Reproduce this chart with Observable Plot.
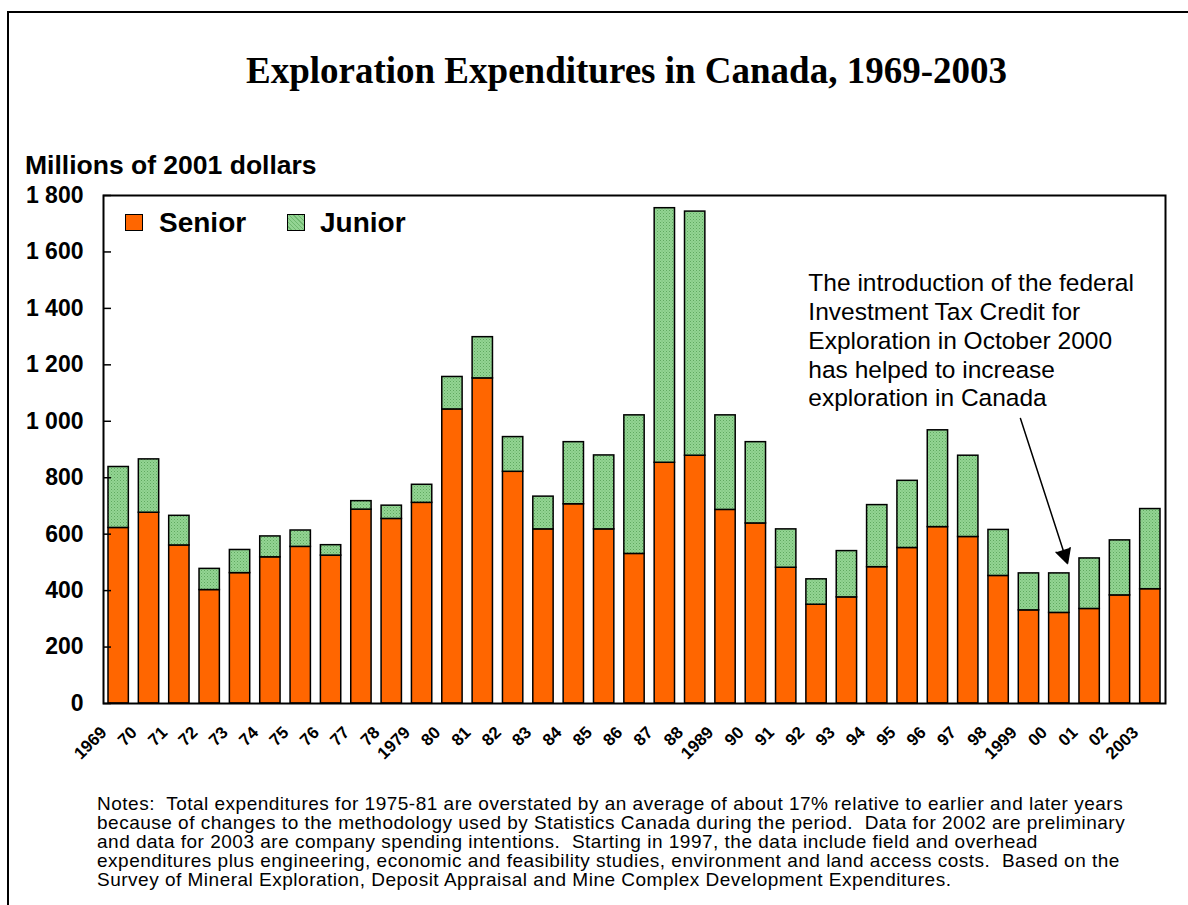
<!DOCTYPE html>
<html>
<head>
<meta charset="utf-8">
<script src="https://cdn.jsdelivr.net/npm/d3@7"></script>
<script src="https://cdn.jsdelivr.net/npm/@observablehq/plot@0.6"></script>
<style>
  html, body { margin: 0; padding: 0; background: #fff; }
  #page { position: relative; width: 1188px; height: 905px; overflow: hidden; font-family: "Liberation Sans", Arial, sans-serif; color: #000; }
  #frame { position: absolute; left: 7px; top: 11px; width: 1300px; height: 1000px; border-left: 2px solid #000; border-top: 2px solid #000; }
  #chart { position: absolute; left: 0; top: 0; }
  .abs { position: absolute; white-space: pre; line-height: 1; }
  #title { left: 0; width: 1253px; text-align: center; top: 52px; font-family: "Liberation Serif", "Times New Roman", serif; font-weight: bold; font-size: 37px; }
  #ylabel { left: 25px; top: 152px; font-weight: bold; font-size: 26.5px; }
  .sw { position: absolute; width: 16px; height: 15px; border: 1.5px solid #000; }
  .lg { position: absolute; font-weight: bold; font-size: 28px; top: 207px; }
  #notes { left: 97px; top: 794px; font-size: 19px; letter-spacing: 0.5px; line-height: 19px; }
</style>
</head>
<body>
<div id="page">
  <div id="frame"></div>
  <div id="chart"></div>
  <div class="abs" id="title">Exploration Expenditures in Canada, 1969-2003</div>
  <div class="abs" id="ylabel">Millions of 2001 dollars</div>
  <div class="sw" style="left:125px;top:214px;background:#FF6600;"></div>
  <div class="lg" style="left:159px;">Senior</div>
  <div class="sw" id="jsw" style="left:287px;top:214px;"></div>
  <div class="lg" style="left:320px;">Junior</div>
  <div class="abs" id="notes"></div>
</div>
<script>
// ---- data ----
const years = d3.range(1969, 2004);
const senior = [622, 676, 560, 402, 462, 518, 555, 524, 687, 654, 711, 1042, 1152, 821, 617, 706, 617, 530, 853, 878, 686, 638, 481, 350, 376, 483, 551, 625, 590, 452, 330, 321, 335, 383, 405];
const junior = [216, 189, 105, 75, 82, 74, 58, 37, 30, 47, 64, 115, 146, 123, 116, 220, 262, 491, 902, 865, 335, 288, 136, 90, 164, 220, 238, 343, 288, 163, 131, 140, 179, 195, 284];
const xLabels = ["1969","70","71","72","73","74","75","76","77","78","1979","80","81","82","83","84","85","86","87","88","1989","90","91","92","93","94","95","96","97","98","1999","00","01","02","2003"];
const yTicks = [0, 200, 400, 600, 800, 1000, 1200, 1400, 1600, 1800];
const yTickLabels = ["0", "200", "400", "600", "800", "1 000", "1 200", "1 400", "1 600", "1 800"];
const seriesNames = ["Senior", "Junior"];
const annotationText = "The introduction of the federal\nInvestment Tax Credit for\nExploration in October 2000\nhas helped to increase\nexploration in Canada";
const notesLines = [
  "Notes:  Total expenditures for 1975-81 are overstated by an average of about 17% relative to earlier and later years",
  "because of changes to the methodology used by Statistics Canada during the period.  Data for 2002 are preliminary",
  "and data for 2003 are company spending intentions.  Starting in 1997, the data include field and overhead",
  "expenditures plus engineering, economic and feasibility studies, environment and land access costs.  Based on the",
  "Survey of Mineral Exploration, Deposit Appraisal and Mine Complex Development Expenditures."
];

// annotation placement (data space)
const noteAt = {x: 1991.73, y: 1535};
const arrowAt = {x1: 1998.72, y1: 1010, x2: 2000.27, y2: 496};

const rows = years.map((year, i) => ({year, senior: senior[i], junior: junior[i], total: senior[i] + junior[i], label: xLabels[i]}));

const chart = Plot.plot({
  width: 1188,
  height: 780,
  marginLeft: 103,
  marginRight: 23,
  marginTop: 195,
  marginBottom: 77,
  style: {fontFamily: "'Liberation Sans', Arial, sans-serif", background: "transparent", overflow: "visible", color: "#000"},
  x: {type: "linear", domain: [1968.5, 2003.5], axis: null},
  y: {domain: [0, 1800], axis: null},
  marks: [
    Plot.rectY(rows, {x1: d => d.year - 0.5, x2: d => d.year + 0.5, y1: 0, y2: "senior", insetLeft: 5, insetRight: 5, fill: "#FF6600", stroke: "#000", strokeWidth: 1.5}),
    Plot.rectY(rows, {x1: d => d.year - 0.5, x2: d => d.year + 0.5, y1: "senior", y2: "total", insetLeft: 5, insetRight: 5, fill: "url(#hatch)", stroke: "#000", strokeWidth: 1.5}),
    Plot.axisY({ticks: yTicks, tickSize: 8, insetLeft: 8, tickFormat: () => "", label: null, strokeWidth: 1.5}),
    Plot.text(yTicks, {y: d => d, frameAnchor: "left", textAnchor: "end", dx: -20, text: (d, i) => yTickLabels[i], fontSize: 23, fontWeight: "bold"}),
    Plot.text(rows, {x: "year", frameAnchor: "bottom", text: "label", rotate: -45, textAnchor: "end", dx: -11, dy: 30, fontSize: 17, fontWeight: "bold"}),
    Plot.frame({stroke: "#000", strokeWidth: 2}),
    Plot.text([annotationText], {x: noteAt.x, y: noteAt.y, text: d => d, textAnchor: "start", lineAnchor: "top", fontSize: 24.5, lineHeight: 1.18}),
    Plot.arrow([arrowAt], {x1: "x1", y1: "y1", x2: "x2", y2: "y2", stroke: "#000", fill: "#000", strokeWidth: 1.5, headLength: 16, headAngle: 55})
  ]
});

chart.insertAdjacentHTML("afterbegin",
  `<defs><pattern id="hatch" width="3" height="3" patternUnits="userSpaceOnUse">
     <rect width="3" height="3" fill="#93d493"/>
     <rect x="0" y="0" width="1" height="1" fill="#5fa95f"/>
     <rect x="1.5" y="1.5" width="1" height="1" fill="#6fb86f"/>
   </pattern></defs>`);
document.getElementById("chart").appendChild(chart);
document.getElementById("jsw").style.background = "repeating-linear-gradient(45deg, #93d493 0 2px, #6fb86f 2px 3px)";
document.getElementById("notes").textContent = notesLines.join("\n");
</script>
</body>
</html>
